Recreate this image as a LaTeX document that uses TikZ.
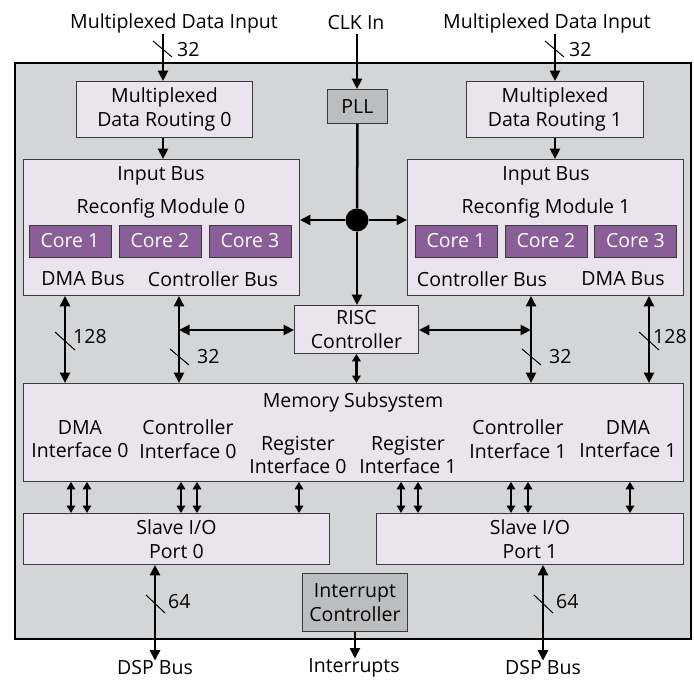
\documentclass[tikz,border=0pt]{standalone}
\usepackage{fontspec}
\setmainfont{Open Sans}
\usetikzlibrary{arrows.meta}
\definecolor{panel}{HTML}{D4D5D7}
\definecolor{boxfill}{HTML}{EAE4EE}
\definecolor{corefill}{HTML}{8A5E99}
\definecolor{grayfill}{HTML}{BCBDBF}
\definecolor{boxline}{HTML}{3A3A3A}
\begin{document}
\begin{tikzpicture}[x=1pt,y=-1pt,
  every node/.style={font=\fontsize{19.5}{23.5}\selectfont, inner sep=0pt},
  box/.style={draw=boxline, fill=boxfill, line width=0.9pt, align=center, anchor=north west},
  gbox/.style={box, fill=grayfill},
  corebox/.style={draw=boxline, fill=corefill, text=white, line width=0.9pt,
    minimum width=82pt, minimum height=32pt},
  bus/.style={line width=2.5pt, -{Triangle[length=10.5pt,width=10pt]}},
  dbus/.style={line width=2.5pt, {Triangle[length=10.5pt,width=10pt]}-{Triangle[length=10.5pt,width=10pt]}},
  sbus/.style={line width=2.3pt, {Triangle[length=7.5pt,width=8.5pt]}-{Triangle[length=7.5pt,width=8.5pt]}},
  tick/.style={line width=1pt},
  lbl/.style={anchor=west}]
\useasboundingbox (0,0) rectangle (694,681);

% chip outline
\draw[fill=panel, line width=2.6pt] (15,63) rectangle (691,639);

% top labels
\node (min0) at (174,23) {Multiplexed Data Input};
\node (clk)  at (356,23) {CLK In};
\node (min1) at (547,23) {Multiplexed Data Input};

% routing blocks and clock
\node[box, minimum width=176pt, minimum height=56pt] (mdr0) at (76,81) {Multiplexed\\Data Routing 0};
\node[box, minimum width=177pt, minimum height=56pt] (mdr1) at (466,81) {Multiplexed\\Data Routing 1};
\node[gbox, minimum width=60pt, minimum height=34pt] (pll) at (327,89) {PLL};

% reconfig modules
\node[box, minimum width=276pt, minimum height=136pt] (rm0) at (23,159) {};
\node[box, minimum width=276pt, minimum height=136pt] (rm1) at (407,159) {};
\node (ib0) at (161,176) {Input Bus};
\node (rn0) at (161,208) {Reconfig Module 0};
\node[corebox] (c01) at (70,241) {Core 1};
\node[corebox] (c02) at (160,241) {Core 2};
\node[corebox] (c03) at (250,241) {Core 3};
\node (db0) at (83,279) {DMA Bus};
\node (cb0) at (213,279) {Controller Bus};
\node (ib1) at (546,176) {Input Bus};
\node (rn1) at (546,208) {Reconfig Module 1};
\node[corebox] (c11) at (456,241) {Core 1};
\node[corebox] (c12) at (546,241) {Core 2};
\node[corebox] (c13) at (635.5,241) {Core 3};
\node (cb1) at (482,279) {Controller Bus};
\node (db1) at (623,279) {DMA Bus};

% RISC controller
\node[box, minimum width=124pt, minimum height=48pt] (risc) at (294,305) {RISC\\Controller};

% memory subsystem
\node[box, minimum width=660pt, minimum height=98pt] (mem) at (23,383) {};
\node (memt) at (353,402) {Memory Subsystem};
\node[align=center] (dmi0) at (80,439) {DMA\\Interface 0};
\node[align=center] (cti0) at (188,439) {Controller\\Interface 0};
\node[align=center] (rgi0) at (298,455) {Register\\Interface 0};
\node[align=center] (rgi1) at (408,455) {Register\\Interface 1};
\node[align=center] (cti1) at (518,439) {Controller\\Interface 1};
\node[align=center] (dmi1) at (628,439) {DMA\\Interface 1};

% slave ports and interrupt controller
\node[box, minimum width=306pt, minimum height=51pt] (sp0) at (23,513) {Slave I/O\\Port 0};
\node[box, minimum width=307pt, minimum height=51pt] (sp1) at (376,513) {Slave I/O\\Port 1};
\node[gbox, minimum width=105pt, minimum height=58pt] (intc) at (302,573) {Interrupt\\Controller};

% bottom labels
\node (dsp0) at (155,668) {DSP Bus};
\node (irq)  at (354,668) {Interrupts};
\node (dsp1) at (543,668) {DSP Bus};

% bus positions
\coordinate (a0) at (163,34);
\coordinate (a1) at (555,34);
\coordinate (ac) at (357,34);
\coordinate (xd0) at (65,0);
\coordinate (xc0) at (179,0);
\coordinate (xc1) at (531,0);
\coordinate (xd1) at (649,0);
\coordinate (hy) at (0,330);
\coordinate (x00) at (155,0);
\coordinate (x11) at (543,0);

% clock distribution
\node[circle, fill=black, minimum size=23pt] (hub) at (357,220) {};
\draw[bus] (ac) -- (ac |- pll.north);
\draw[line width=2.5pt] (pll.south) -- (hub);
\draw[bus] (hub) -- (hub -| rm0.east);
\draw[bus] (hub) -- (hub -| rm1.west);
\draw[bus] (hub) -- (hub |- risc.north);

% data inputs
\draw[bus] (a0) -- (a0 |- mdr0.north);
\draw[bus] (a1) -- (a1 |- mdr1.north);
\draw[bus] (mdr0.south -| a0) -- (rm0.north -| a0);
\draw[bus] (mdr1.south -| a1) -- (rm1.north -| a1);

% module buses
\draw[dbus] (rm0.south -| xd0) -- (mem.north -| xd0);
\draw[dbus] (rm0.south -| xc0) -- (mem.north -| xc0);
\draw[dbus] (rm1.south -| xc1) -- (mem.north -| xc1);
\draw[dbus] (rm1.south -| xd1) -- (mem.north -| xd1);
\draw[dbus] (hy -| xc0) -- (hy -| risc.west);
\draw[dbus] (hy -| risc.east) -- (hy -| xc1);
\draw[sbus] (risc.south) -- (risc.south |- mem.north);

% memory to slave ports
\foreach \x in {71,87,181,197,299}
  \draw[sbus] (mem.south -| \x,0) -- (sp0.north -| \x,0);
\foreach \x in {401,418,511,528,630}
  \draw[sbus] (mem.south -| \x,0) -- (sp1.north -| \x,0);

% external buses
\draw[dbus] (sp0.south -| x00) -- (dsp0.north -| x00);
\draw[dbus] (sp1.south -| x11) -- (dsp1.north -| x11);
\draw[bus] (intc.south) -- (intc.south |- irq.north);

% bus width ticks
\draw[tick] (153,41) -- (172,57);  \node[lbl] at (177,50) {32};
\draw[tick] (545,41) -- (564,57);  \node[lbl] at (569,50) {32};
\draw[tick] (55,332) -- (75,350);  \node[lbl] at (73,337) {128};
\draw[tick] (170,349) -- (189,365); \node[lbl] at (197,357) {32};
\draw[tick] (522,349) -- (541,365); \node[lbl] at (549,357) {32};
\draw[tick] (639,332) -- (659,350); \node[lbl] at (653,337) {128};
\draw[tick] (146,595) -- (165,613); \node[lbl] at (168,602) {64};
\draw[tick] (534,595) -- (553,613); \node[lbl] at (556,602) {64};
\end{tikzpicture}
\end{document}
